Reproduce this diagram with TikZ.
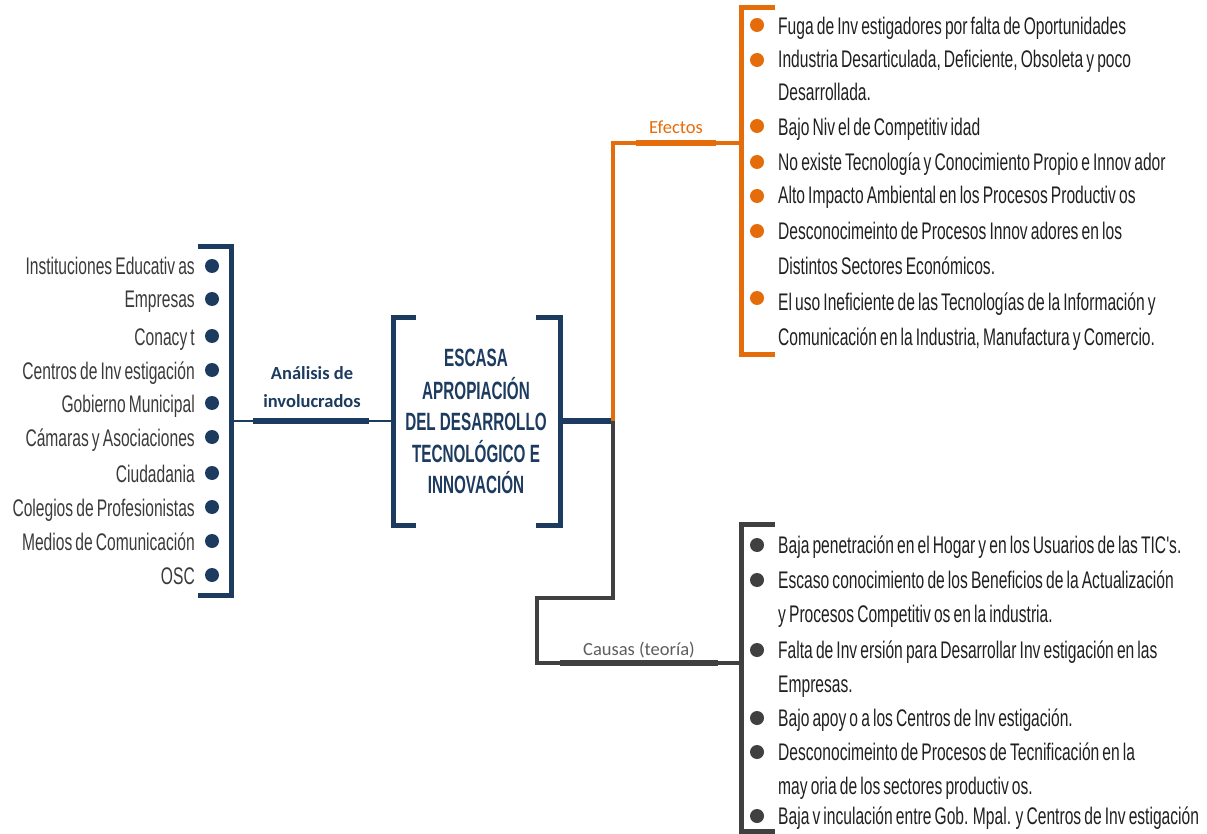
\documentclass[tikz,border=0pt]{standalone}
\usepackage{fontspec}
\newfontfamily\agency[FakeStretch=0.65,WordSpace=0.72]{Liberation Sans}
\newfontfamily\agencyB[FakeStretch=0.61]{Liberation Sans}
\newfontfamily\calibri{Carlito}
\definecolor{navy}{HTML}{1D3A5F}
\definecolor{orng}{HTML}{E46C0A}
\definecolor{dgray}{HTML}{404040}
\definecolor{txtdark}{HTML}{202020}
\definecolor{txtgray}{HTML}{3A3A3A}
\tikzset{
  litem/.style={anchor=base east, inner sep=0, text=txtgray, font=\agency\fontsize{24}{24}\selectfont},
  ritem/.style={anchor=base west, inner sep=0, text=txtdark, font=\agency\fontsize{24}{24}\selectfont},
  ctitle/.style={anchor=base, inner sep=0, text=navy, font=\agencyB\bfseries\fontsize{25}{25}\selectfont},
  ndot/.style={circle, fill=navy, inner sep=0, minimum size=14pt},
  odot/.style={circle, fill=orng, inner sep=0, minimum size=14pt},
  gdot/.style={circle, fill=dgray, inner sep=0, minimum size=14pt},
  brk/.style={line width=5pt},
  thinln/.style={line width=2.2pt},
  thickln/.style={line width=6pt},
  lbl/.style={anchor=base, inner sep=0, font=\calibri\fontsize{18.5}{18.5}\selectfont}
}
\begin{document}
\begin{tikzpicture}[x=1pt,y=-1pt]
\useasboundingbox (0,0) rectangle (1207,834);

% ---------- left list ----------
\coordinate (lbt) at (198,247);
\coordinate (lbb) at (198,595);
\coordinate (lbj) at (231,421);
\draw[navy,brk] (lbt) -- (231,247) -- (231,595) -- (lbb);

\foreach \i/\y/\t in {1/266/Instituciones Educativ as, 2/299/Empresas, 3/336/Conacy t,
  4/370/Centros de Inv estigación, 5/403/Gobierno Municipal, 6/437/Cámaras y Asociaciones,
  7/473/Ciudadania, 8/507/Colegios de Profesionistas, 9/541/Medios de Comunicación, 10/575/OSC}{
  \node[ndot] (ld\i) at (212,\y) {};
  \node[litem] (ll\i) at (195,\y+9) {\t};
}

% connector to the center
\coordinate (anl) at (253,421);
\coordinate (anr) at (369,421);
\draw[navy,thinln] (lbj) -- (393,421) coordinate (cbl);
\draw[navy,thickln] (anl) -- (anr);
\node[lbl,text=navy,font=\calibri\bfseries\fontsize{18.5}{18.5}\selectfont] (an1) at (312,379) {Análisis de};
\node[lbl,text=navy,font=\calibri\bfseries\fontsize{18.5}{18.5}\selectfont] (an2) at (312,407) {involucrados};

% ---------- center ----------
\draw[navy,brk] (416,317) -- (393,317) -- (393,525) -- (416,525);
\draw[navy,brk] (536,317) -- (560,317) -- (560,525) -- (536,525);
\node[ctitle] (c1) at (476,366) {ESCASA};
\node[ctitle] (c2) at (476,399) {APROPIACIÓN};
\node[ctitle] (c3) at (476,430) {DEL DESARROLLO};
\node[ctitle] (c4) at (476,462) {TECNOLÓGICO E};
\node[ctitle] (c5) at (476,493) {INNOVACIÓN};

\coordinate (cr) at (560,421);
\coordinate (jn) at (613,421);
\draw[navy,line width=6pt] (cr) -- (jn);

% ---------- effects ----------
\draw[orng,line width=4.5pt] (jn) -- (613,143) -- (741,143);
\draw[orng,thickln] (636,143) -- (716,143);
\node[lbl,text=orng] (ef) at (676,134) {Efectos};
\draw[orng,brk] (775,8) -- (741,8) -- (741,354) -- (775,354);

\foreach \i/\y in {1/25,2/60,3/126,4/162,5/196,6/231,7/298}{
  \node[odot] (ed\i) at (757,\y) {};
}
\node[ritem] (e1) at (778,35) {Fuga de Inv estigadores por falta de Oportunidades};
\node[ritem] (e2a) at (778,68) {Industria Desarticulada, Deficiente, Obsoleta y poco};
\node[ritem] (e2b) at (778,101) {Desarrollada.};
\node[ritem] (e3) at (778,136) {Bajo Niv el de Competitiv idad};
\node[ritem] (e4) at (778,171) {No existe Tecnología y Conocimiento Propio e Innov ador};
\node[ritem] (e5) at (778,204) {Alto Impacto Ambiental en los Procesos Productiv os};
\node[ritem] (e6a) at (778,240) {Desconocimeinto de Procesos Innov adores en los};
\node[ritem] (e6b) at (778,275) {Distintos Sectores Económicos.};
\node[ritem] (e7a) at (778,310) {El uso Ineficiente de las Tecnologías de la Información y};
\node[ritem] (e7b) at (778,345) {Comunicación en la Industria, Manufactura y Comercio.};

% ---------- causes ----------
\draw[dgray,line width=4.5pt] (jn) -- (613,598) -- (537,598) -- (537,663) -- (741,663);
\draw[dgray,thickln] (560,663) -- (718,663);
\node[lbl,text=dgray!85] (ca) at (639,655) {Causas (teoría)};
\draw[dgray,brk] (775,524) -- (741,524) -- (741,831) -- (775,831);

\foreach \i/\y in {1/545,2/580,3/650,4/718,5/752,6/816}{
  \node[gdot] (cd\i) at (757,\y) {};
}
\node[ritem] (k1) at (778,553) {Baja penetración en el Hogar y en los Usuarios de las TIC's.};
\node[ritem] (k2a) at (778,588) {Escaso conocimiento de los Beneficios de la Actualización};
\node[ritem] (k2b) at (778,622) {y Procesos Competitiv os en la industria.};
\node[ritem] (k3a) at (778,658) {Falta de Inv ersión para Desarrollar Inv estigación en las};
\node[ritem] (k3b) at (778,692) {Empresas.};
\node[ritem] (k4) at (778,726) {Bajo apoy o a los Centros de Inv estigación.};
\node[ritem] (k5a) at (778,760) {Desconocimeinto de Procesos de Tecnificación en la};
\node[ritem] (k5b) at (778,794) {may oria de los sectores productiv os.};
\node[ritem] (k6) at (778,824) {Baja v inculación entre Gob. Mpal. y Centros de Inv estigación};
\end{tikzpicture}
\end{document}
